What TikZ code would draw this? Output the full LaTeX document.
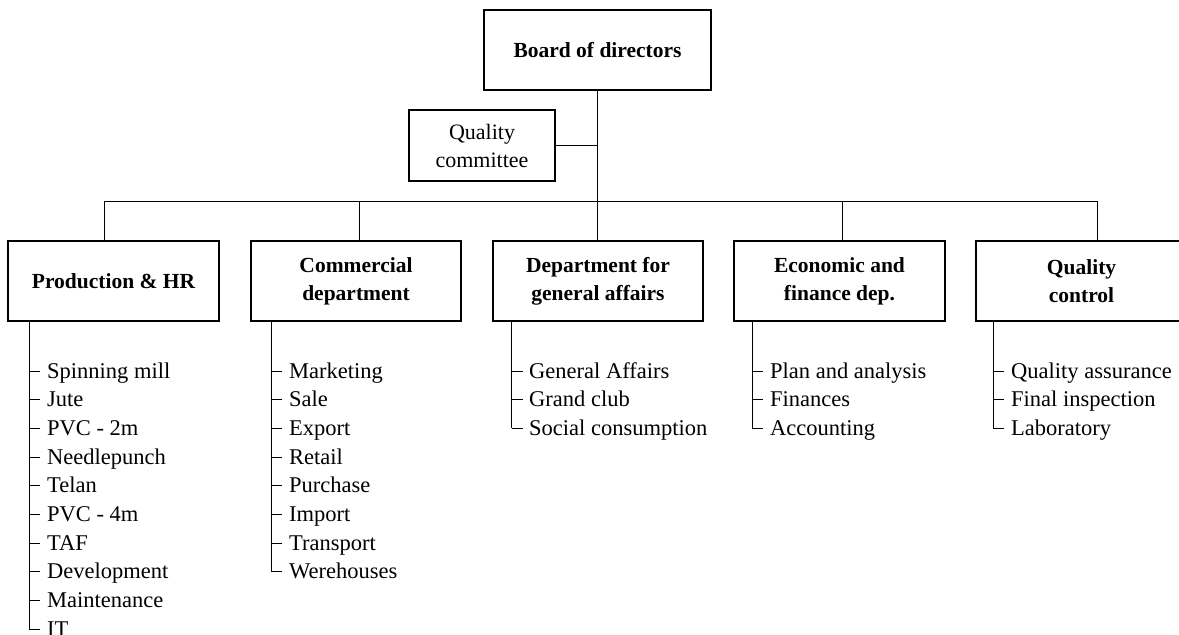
\documentclass[tikz,border=0pt]{standalone}
\usepackage{fontspec}
\setmainfont{Liberation Serif}
\begin{document}
\begin{tikzpicture}[x=1pt,y=-1pt,
  box/.style={draw, line width=1.3pt, inner sep=0pt, align=center,
    font=\bfseries\fontsize{21.5}{28}\selectfont, minimum height=80pt},
  rbox/.style={box, font=\fontsize{22}{28}\selectfont},
  conn/.style={line width=1pt},
  item/.style={anchor=base west, inner sep=0pt, font=\fontsize{22.5}{28}\selectfont}]
\useasboundingbox (0,0) rectangle (1179,635);
\clip (0,0) rectangle (1179,635);

% top
\node[box, minimum width=227pt] (board) at (597.5,50) {Board of directors};
\node[rbox, minimum width=146pt, minimum height=71pt] (qcom) at (482,145.5) {Quality\\committee};

% departments
\node[box, minimum width=211pt] (prod) at (113.5,281) {Production \& HR};
\node[box, minimum width=210pt] (comm) at (356,281) {Commercial\\department};
\node[box, minimum width=210pt] (dept) at (598,281) {Department for\\general affairs};
\node[box, minimum width=211pt] (econ) at (839.5,281) {Economic and\\finance dep.};
\node[box, minimum width=211pt] (qual) at (1081.5,281) {Quality\\control};

% bus
\coordinate (b1) at (104,201);
\coordinate (b2) at (359,201);
\coordinate (b3) at (597.5,201);
\coordinate (b4) at (842,201);
\coordinate (b5) at (1097,201);
\draw[conn] (board.south) -- (board.south |- dept.north);
\draw[conn] (qcom.east) -- (qcom.east -| board.south);
\draw[conn] (b1) -- (b5);
\draw[conn] (b1) -- (b1 |- prod.north);
\draw[conn] (b2) -- (b2 |- comm.north);
\draw[conn] (b4) -- (b4 |- econ.north);
\draw[conn] (b5) -- (b5 |- qual.north);

% lists
\def\sp{28.7}
\foreach \t [count=\i from 0] in {Spinning mill, Jute, PVC - 2m, Needlepunch, Telan, PVC - 4m, TAF, Development, Maintenance, IT}{
  \node[item] (p\i) at (47,378+\sp*\i) {\t};
  \draw[conn] (29,371+\sp*\i) -- (40,371+\sp*\i);
}
\draw[conn] (29,321) -- (29,371+\sp*9);

\foreach \t [count=\i from 0] in {Marketing, Sale, Export, Retail, Purchase, Import, Transport, Werehouses}{
  \node[item] (c\i) at (289,378+\sp*\i) {\t};
  \draw[conn] (271,371+\sp*\i) -- (282,371+\sp*\i);
}
\draw[conn] (271,321) -- (271,371+\sp*7);

\foreach \t [count=\i from 0] in {General Affairs, Grand club, Social consumption}{
  \node[item] (d\i) at (529,378+\sp*\i) {\t};
  \draw[conn] (511.5,371+\sp*\i) -- (522.5,371+\sp*\i);
}
\draw[conn] (511.5,321) -- (511.5,371+\sp*2);

\foreach \t [count=\i from 0] in {Plan and analysis, Finances, Accounting}{
  \node[item] (e\i) at (770,378+\sp*\i) {\t};
  \draw[conn] (752,371+\sp*\i) -- (763,371+\sp*\i);
}
\draw[conn] (752,321) -- (752,371+\sp*2);

\foreach \t [count=\i from 0] in {Quality assurance, Final inspection, Laboratory}{
  \node[item] (q\i) at (1011,378+\sp*\i) {\t};
  \draw[conn] (993,371+\sp*\i) -- (1004,371+\sp*\i);
}
\draw[conn] (993,321) -- (993,371+\sp*2);
\end{tikzpicture}
\end{document}
